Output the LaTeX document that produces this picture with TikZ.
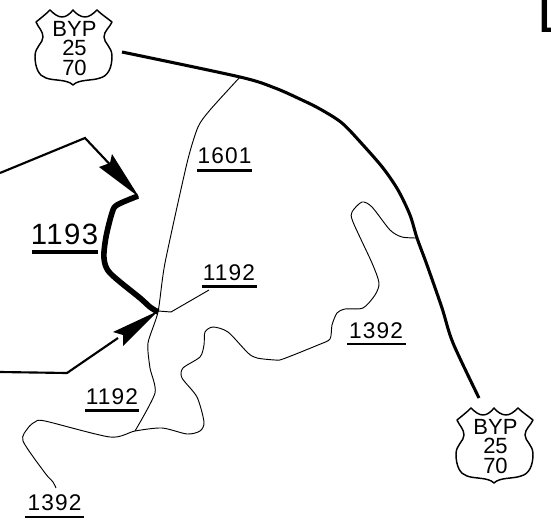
\documentclass[tikz,border=0pt]{standalone}
\usepackage{fontspec}
\setmainfont{Liberation Sans}
\newfontfamily\lblfont[LetterSpace=5]{Liberation Sans}
\begin{document}
\begin{tikzpicture}[x=0.75pt,y=-0.75pt,
  road/.style={line width=2.3pt,line join=round},
  thin road/.style={line width=0.7pt,line join=round},
  shield line/.style={line width=1.1pt,line join=round,fill=white},
  shield text/.style={inner sep=0pt,align=center,font=\fontsize{16.5}{14.7}\selectfont},
  lbl/.style={inner sep=0pt,font=\lblfont\fontsize{17}{17}\selectfont},
  bigl/.style={inner sep=0pt,font=\lblfont\fontsize{22}{22}\selectfont},
  rule/.style={line width=1.9pt},
  pointer/.style={line width=1.6pt,line join=miter}]
\useasboundingbox (0,0) rectangle (551,529);
\clip (0,0) rectangle (551,529);
\fill[white] (0,0) rectangle (551,529);

% main bypass
\draw[road] plot[smooth,tension=0.5] coordinates {(122,52) (240,77) (275,88) (302,100) (320,109) (342,123) (363,145) (383,168) (398,190) (410,215) (417,238) (427,265) (442,308) (453,343) (479,398)};

% thin roads
\draw[thin road] plot[smooth,tension=0.4] coordinates {(240,77) (210,110) (198,127) (187,163) (165,263) (158,312) (148,343) (150,368) (155,393) (135,431)};
\draw[thin road] (158,311) -- (171,312) -- (209,290);
\draw[thin road] plot[smooth,tension=0.45] coordinates {(417,238) (402,237) (390,230) (372,207) (362,202) (352,212) (353,222) (372,263) (379,283) (375,295) (363,308) (345,309) (337,313) (332,325) (330,339) (318,345) (283,359) (275,360) (257,358) (248,353) (228,332) (213,327) (205,332) (204,345) (200,357) (183,368) (182,378) (197,397) (204,422) (200,431) (187,434) (162,428) (135,431) (110,437) (45,421) (35,422) (28,428) (23,441) (45,473) (53,482) (56,488)};

% 1193 thick section
\draw[line width=4.2pt,line join=round] plot[smooth,tension=0.5] coordinates {(138,196) (117,205) (112,213) (106,237) (104,258) (110,273) (140,298) (150,307) (158,312)};

% pointers
\draw[pointer] (0,173) -- (85,138) -- (118,173);
\fill (139,197) -- (112,154) -- (110,163) -- (99,167) -- cycle;
\draw[pointer] (0,372) -- (67,373) -- (118,338);
\fill (158,311) -- (113,332) -- (123,335) -- (123,346) -- cycle;

% shields
\foreach \dx/\dy/\nm in {0/0/a,421/398/b}{
\begin{scope}[shift={(\dx,\dy)}]
\draw[shield line] (36,22) .. controls (41,18) and (46,14) .. (50,10)
  .. controls (54,14) and (58,17) .. (62,17) .. controls (66,17) and (70,14) .. (73,10)
  .. controls (76,14) and (81,17) .. (85,17) .. controls (89,17) and (93,14) .. (97,10)
  .. controls (101,14) and (107,18) .. (112,22)
  .. controls (110,27) and (104,31) .. (104,37) .. controls (104,43) and (112,47) .. (112,56)
  .. controls (112,68) and (108,76) .. (100,78) .. controls (92,81) and (79,79) .. (73,85)
  .. controls (67,79) and (54,81) .. (46,78) .. controls (39,76) and (35,68) .. (35,56)
  .. controls (35,47) and (43,43) .. (43,37) .. controls (43,31) and (38,27) .. (36,22) -- cycle;
\node[shield text] (txt\nm) at (74.5,48.5) {BYP\\25\\70};
\end{scope}}

% labels
\node[lbl] (l1601) at (224.5,156) {1601};
\draw[rule] (197,170.5) -- (252,170.5);
\node[bigl] (l1193) at (64.5,234.5) {1193};
\draw[line width=2.6pt] (32,252) -- (98,252);
\node[lbl] (l1192a) at (229,273) {1192};
\draw[rule] (202,286.5) -- (257,286.5);
\node[lbl] (l1192b) at (112,396.5) {1192};
\draw[rule] (85,410.5) -- (139,410.5);
\node[lbl] (l1392a) at (54.5,503) {1392};
\draw[rule] (25,517) -- (84,517);
\node[lbl] (l1392b) at (376,331) {1392};
\draw[rule] (347,344) -- (406,344);

% cropped letter at the top right
\node[anchor=south west,inner sep=0pt,font=\fontsize{43}{43}\selectfont] (ll) at (537.6,33) {L};
\end{tikzpicture}
\end{document}
